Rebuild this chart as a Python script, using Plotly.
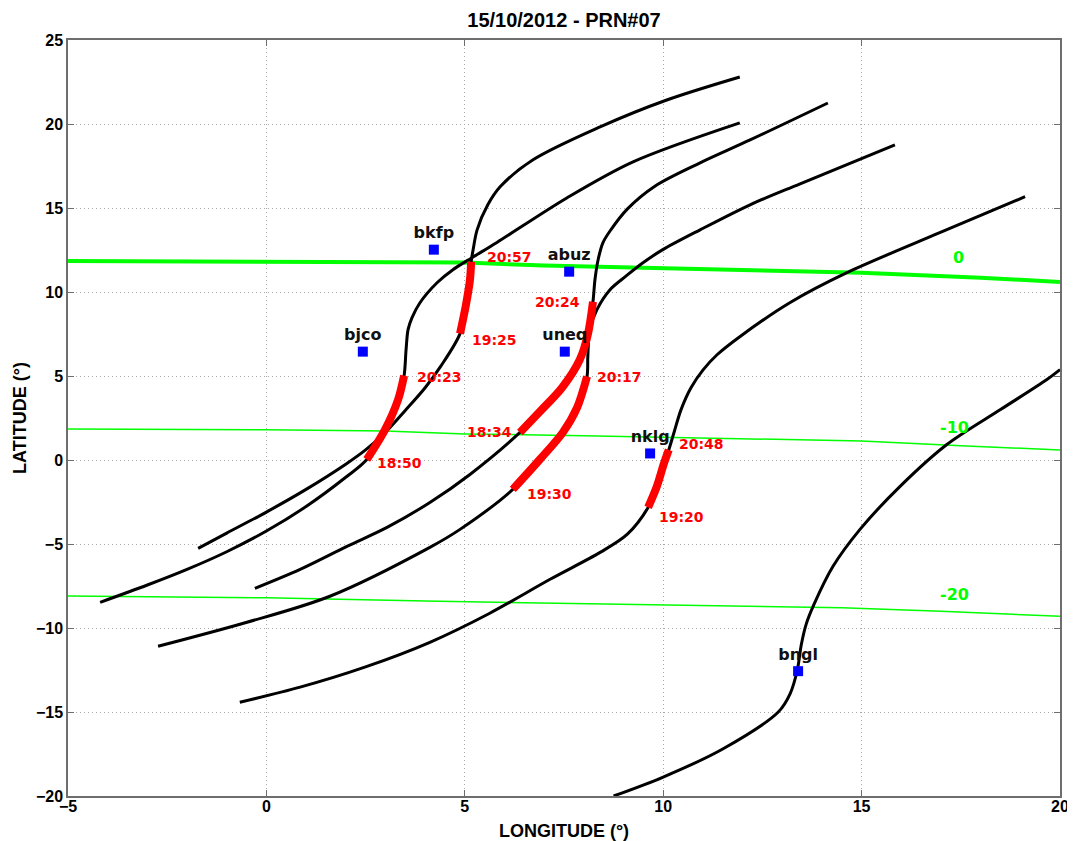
import plotly.graph_objects as go

title_text = "15/10/2012 - PRN#07"
x_title = "LONGITUDE (°)"
y_title = "LATITUDE (°)"

# ---- satellite ionospheric pierce point tracks (lon, lat in degrees) ----
track_a_lon = [-1.72, -1.0, 0.0, 1.0, 2.0, 2.5, 3.0, 3.5, 4.0, 4.4, 4.88, 5.03, 5.13, 5.16, 5.21, 5.31, 5.58, 5.89, 6.72, 8.41, 10.09, 11.93]
track_a_lat = [-5.26, -4.35, -3.1, -1.75, -0.25, 0.6, 1.65, 2.95, 4.3, 5.6, 7.52, 9.25, 10.73, 11.8, 12.52, 13.7, 15.19, 16.26, 17.87, 19.83, 21.43, 22.8]

track_b_lon = [-4.19, -3.0, -2.0, -1.0, 0.0, 1.0, 2.0, 2.53, 2.99, 3.32, 3.47, 3.52, 3.57, 3.67, 3.87, 4.3, 4.7, 5.18, 5.81, 7.57, 9.24, 11.93]
track_b_lat = [-8.47, -7.44, -6.51, -5.46, -4.23, -2.77, -1.03, 0.03, 1.81, 3.6, 5.02, 6.57, 7.76, 8.47, 9.36, 10.55, 11.33, 12.04, 12.95, 15.6, 17.75, 20.07]

track_c_lon = [-0.29, 0.85, 2.03, 3.04, 4.12, 5.13, 6.39, 6.9, 7.45, 7.9, 8.1, 8.23, 8.28, 8.36, 8.48, 8.68, 9.1, 9.79, 10.93, 12.19, 14.15]
track_c_lat = [-7.64, -6.51, -5.14, -4.01, -2.53, -0.86, 1.64, 2.9, 4.3, 5.98, 7.46, 9.42, 10.73, 11.92, 12.93, 13.7, 14.95, 16.3, 17.69, 19.05, 21.25]

track_d_lon = [-2.73, -0.49, 1.6, 4.12, 4.88, 6.21, 6.89, 7.47, 7.83, 8.08, 8.1, 8.15, 8.33, 8.66, 9.09, 9.49, 9.99, 10.93, 12.19, 13.45, 15.84]
track_d_lat = [-11.09, -9.66, -8.11, -5.2, -4.13, -1.75, 0.03, 1.64, 3.12, 4.97, 6.15, 7.76, 8.95, 10.14, 11.0, 11.74, 12.52, 13.7, 15.19, 16.44, 18.76]

track_e_lon = [-0.67, 0.85, 2.48, 4.12, 5.63, 7.15, 8.41, 9.09, 9.62, 9.84, 10.02, 10.14, 10.28, 10.45, 10.7, 11.0, 11.35, 11.93, 13.19, 14.63, 16.97, 19.12]
track_e_lat = [-14.42, -13.52, -12.33, -10.85, -9.12, -7.1, -5.5, -4.43, -2.82, -1.57, -0.2, 0.6, 1.7, 3.0, 4.3, 5.35, 6.25, 7.34, 9.36, 11.15, 13.53, 15.67]

track_f_lon = [8.75, 10.0, 11.5, 12.9, 13.2, 13.38, 13.48, 13.6, 13.8, 14.28, 14.96, 15.97, 17.15, 18.5, 19.67, 20.0]
track_f_lat = [-20.0, -18.87, -17.2, -15.0, -13.9, -12.5, -11.0, -9.8, -8.6, -6.33, -4.13, -1.57, 0.92, 3.0, 4.79, 5.38]

tracks_lon = [track_a_lon, track_b_lon, track_c_lon, track_d_lon, track_e_lon, track_f_lon]
tracks_lat = [track_a_lat, track_b_lat, track_c_lat, track_d_lat, track_e_lat, track_f_lat]

# index range of each track highlighted in red (None = no highlight)
red_start_idx = [10, 7, 6, 5, 8, None]
red_end_idx = [13, 10, 11, 9, 11, None]

# time labels (start / end of red segments)
time_text = ["19:25", "20:57", "18:50", "20:23", "18:34", "20:24", "19:30", "20:17", "19:20", "20:48"]
time_lon = [5.13, 5.51, 2.74, 3.74, 5.0, 6.72, 6.52, 8.28, 9.84, 10.35]
time_lat = [7.17, 12.1, -0.15, 4.97, 1.64, 9.42, -2.05, 4.97, -3.42, 0.98]

# ---- magnetic-latitude contours ----
contour0_lon = [-5, 0, 5, 7, 10, 12, 15, 18, 20]
contour0_lat = [11.85, 11.82, 11.75, 11.58, 11.42, 11.28, 11.15, 10.85, 10.6]
contour10_lon = [-5, 0, 3, 5, 8, 12, 15, 17.5, 20]
contour10_lat = [1.85, 1.8, 1.72, 1.55, 1.45, 1.28, 1.13, 0.85, 0.6]
contour20_lon = [-5, 0, 4, 8, 11, 14.5, 17, 20]
contour20_lat = [-8.1, -8.2, -8.4, -8.55, -8.65, -8.8, -9.0, -9.3]

contour_text = ["0", "-10", "-20"]
contour_text_lon = [17.43, 17.33, 17.33]
contour_text_lat = [12.04, 1.93, -8.0]

# ---- GNSS stations ----
station_name = ["bkfp", "abuz", "bjco", "uneq", "nklg", "bngl"]
station_lon = [4.22, 7.63, 2.43, 7.52, 9.67, 13.4]
station_lat = [12.52, 11.21, 6.45, 6.45, 0.39, -12.57]

GREEN = "#00ff00"
fig = go.Figure()

fig.add_trace(go.Scatter(x=contour20_lon, y=contour20_lat, mode="lines",
                         line=dict(color=GREEN, width=1.5), hoverinfo="skip"))
fig.add_trace(go.Scatter(x=contour10_lon, y=contour10_lat, mode="lines",
                         line=dict(color=GREEN, width=1.5), hoverinfo="skip"))
fig.add_trace(go.Scatter(x=contour0_lon, y=contour0_lat, mode="lines",
                         line=dict(color=GREEN, width=4), hoverinfo="skip"))

for lon, lat in zip(tracks_lon, tracks_lat):
    fig.add_trace(go.Scatter(x=lon, y=lat, mode="lines",
                             line=dict(color="black", width=3, shape="spline", smoothing=0.9),
                             hoverinfo="skip"))

for lon, lat, s, e in zip(tracks_lon, tracks_lat, red_start_idx, red_end_idx):
    if s is None:
        continue
    fig.add_trace(go.Scatter(x=lon[s:e + 1], y=lat[s:e + 1], mode="lines",
                             line=dict(color="#ff0000", width=8, shape="spline", smoothing=0.9),
                             hoverinfo="skip"))

fig.add_trace(go.Scatter(x=station_lon, y=station_lat, mode="markers+text",
                         text=station_name, textposition="top center",
                         textfont=dict(family="DejaVu Sans", size=16, color="#111111", weight="bold"),
                         marker=dict(symbol="square", size=10, color="#0000ff"),
                         hoverinfo="skip"))

annotations = []
for t, x, y in zip(time_text, time_lon, time_lat):
    annotations.append(dict(x=x, y=y, xref="x", yref="y", text=t, showarrow=False,
                            xanchor="left", yanchor="middle",
                            font=dict(family="DejaVu Sans", size=14, color="#ff0000", weight="bold")))
for t, x, y in zip(contour_text, contour_text_lon, contour_text_lat):
    annotations.append(dict(x=x, y=y, xref="x", yref="y", text=t, showarrow=False,
                            xanchor="center", yanchor="middle",
                            font=dict(family="DejaVu Sans", size=16, color=GREEN, weight="bold")))

axis_common = dict(showgrid=True, gridcolor="#a8a8a8", griddash="1px,3px", gridwidth=1,
                   zeroline=False, showline=True, linecolor="#6e6e6e", linewidth=1.5,
                   mirror="ticks", ticks="inside", ticklen=6, tickcolor="#6e6e6e",
                   tickfont=dict(family="Liberation Sans", size=16, color="black", weight="bold"),
                   dtick=5, automargin=False)

# the page body adds an 8 px offset, so the figure is 8 px smaller than the window
FIG_W, FIG_H = 1067, 833
fig.update_layout(
    width=FIG_W, height=FIG_H,
    margin=dict(l=60, r=15, t=32, b=45, autoexpand=False),
    plot_bgcolor="white", paper_bgcolor="white",
    showlegend=False,
    title=dict(text=title_text, x=0.5, xref="paper", y=1 - 5 / FIG_H, yref="container",
               xanchor="center", yanchor="top",
               font=dict(family="Liberation Sans", size=20, color="black", weight="bold")),
    xaxis=dict(range=[-5, 20], tick0=-5, ticklabelstandoff=-5,
               title=dict(text=x_title, standoff=10,
                          font=dict(family="Liberation Sans", size=18, color="black", weight="bold")),
               **axis_common),
    yaxis=dict(range=[-20, 25], tick0=-20,
               title=dict(text=y_title, standoff=5,
                          font=dict(family="Liberation Sans", size=18, color="black", weight="bold")),
               **axis_common),
    annotations=annotations,
)

fig.write_html("out.html")
